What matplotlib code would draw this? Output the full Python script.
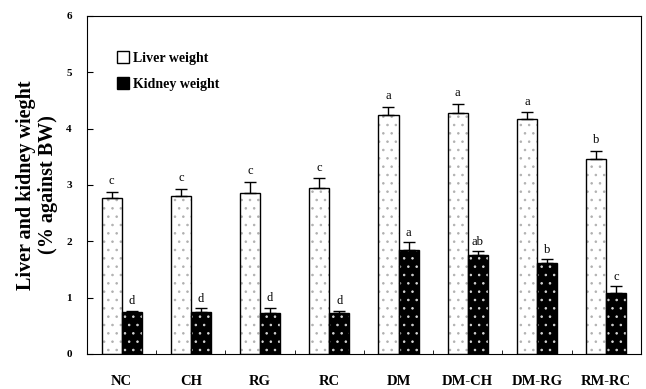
import numpy as np
import matplotlib
matplotlib.use('Agg')
import matplotlib.pyplot as plt

# group names and values
groups = ['NC', 'CH', 'RG', 'RC', 'DM', 'DM-CH', 'DM-RG', 'RM-RC']
liver = [2.77, 2.81, 2.86, 2.95, 4.25, 4.27, 4.17, 3.46]
liver_err = [0.11, 0.12, 0.20, 0.17, 0.14, 0.17, 0.12, 0.15]
kidney = [0.75, 0.75, 0.72, 0.72, 1.85, 1.75, 1.61, 1.08]
kidney_err = [0.02, 0.06, 0.10, 0.05, 0.13, 0.07, 0.07, 0.12]
liver_letters = ['c', 'c', 'c', 'c', 'a', 'a', 'a', 'b']
kidney_letters = ['d', 'd', 'd', 'd', 'a', 'ab', 'b', 'c']

plt.rcParams['font.family'] = ['Liberation Serif', 'DejaVu Serif']
plt.rcParams['hatch.linewidth'] = 0.6

fig = plt.figure(figsize=(6.46, 3.89), dpi=100)
ax = fig.add_axes([0.1347, 0.09, 0.8573, 0.869])

x = np.arange(len(groups))
w = 0.29

# liver bars: white with faint grey dots
ax.bar(x - w / 2, liver, w, color='white', edgecolor='#b0b0b0', hatch='..', lw=0, zorder=2)
ax.bar(x - w / 2, liver, w, fill=False, edgecolor='black', lw=1.0, zorder=3)
ax.errorbar(x - w / 2, liver, yerr=[np.zeros(len(liver)), liver_err], fmt='none',
            ecolor='black', elinewidth=1.0, capsize=4, capthick=1.0, zorder=3)

# kidney bars: black with white dots
ax.bar(x + w / 2, kidney, w, color='black', edgecolor='#d8d8d8', hatch='..', lw=0, zorder=2)
ax.bar(x + w / 2, kidney, w, fill=False, edgecolor='black', lw=1.0, zorder=3)
ax.errorbar(x + w / 2, kidney, yerr=[np.zeros(len(kidney)), kidney_err], fmt='none',
            ecolor='black', elinewidth=1.0, capsize=4, capthick=1.0, zorder=3)

for i in range(len(groups)):
    ax.text(x[i] - w / 2, liver[i] + liver_err[i] + 0.08, liver_letters[i],
            ha='center', va='bottom', fontsize=9)
    ax.text(x[i] + w / 2, kidney[i] + kidney_err[i] + 0.06, kidney_letters[i],
            ha='center', va='bottom', fontsize=9)

ax.set_xlim(-0.5, len(groups) - 0.5)
ax.set_ylim(0, 6)
ax.set_yticks(range(7))
ax.tick_params(axis='y', direction='in', length=4, labelsize=8, pad=11)
for lab in ax.get_yticklabels():
    lab.set_fontweight('bold')

ax.set_xticks(x)
ax.set_xticklabels(groups, fontsize=10.5, fontweight='bold')
ax.tick_params(axis='x', which='major', length=0, pad=15)
ax.set_xticks(x[:-1] + 0.5, minor=True)
ax.tick_params(axis='x', which='minor', direction='in', length=3)

ax.set_ylabel('Liver and kidney wieght\n(% against BW)', fontsize=14.5,
              fontweight='bold', labelpad=6, linespacing=1.15)

# legend drawn as square markers
ax.plot([], [], 's', mfc='white', mec='black', ms=8, label='Liver weight')
ax.plot([], [], 's', mfc='black', mec='black', ms=8, label='Kidney weight')
ax.legend(loc='upper left', bbox_to_anchor=(0.03, 0.93), frameon=False,
          handletextpad=0.2, handlelength=1.0, labelspacing=0.9,
          prop={'weight': 'bold', 'size': 10})

fig.savefig('out.png', dpi=100)
